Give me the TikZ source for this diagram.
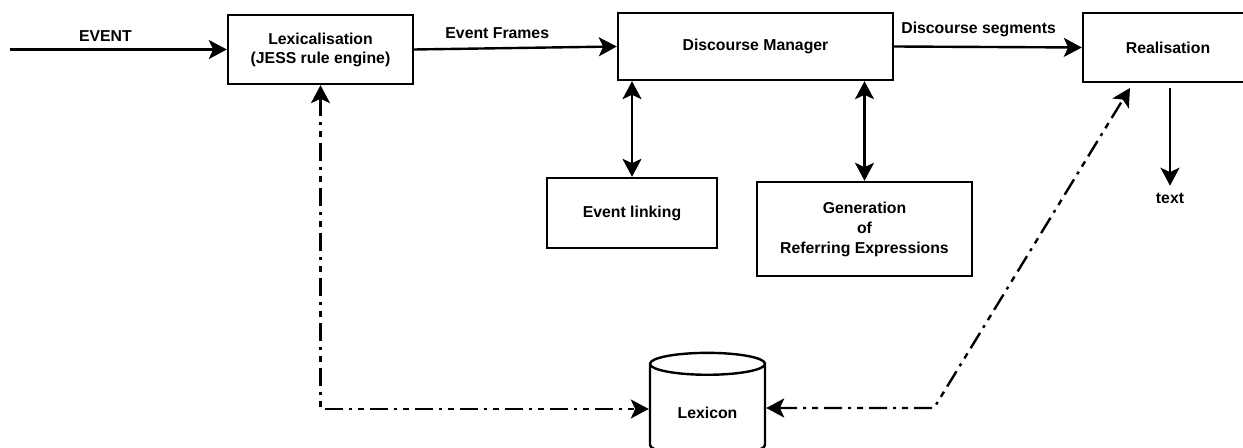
\documentclass[tikz,border=0pt]{standalone}
\usepackage{fontspec}
\setmainfont{Liberation Sans}
\usetikzlibrary{arrows.meta,shapes.geometric}

\begin{document}
\begin{tikzpicture}[x=0.5pt,y=-0.5pt,
	font=\fontsize{7.9}{9.5}\selectfont\bfseries,
	box/.style={draw, line width=1.2pt, align=center, inner sep=0pt},
	tip/.tip={Stealth[length=9pt,width=9.5pt,inset=2.2pt]},
	flow/.style={-tip, line width=1.2pt},
	lookup/.style={tip-tip, line width=1.2pt, dash pattern=on 9pt off 3pt on 1.5pt off 3pt on 3pt off 3pt}]

	\useasboundingbox (0,0) rectangle (1243,448);

	\node [box, minimum width=92.5pt, minimum height=34.5pt] (lex) at (320.5,49.5) {Lexicalisation\\(JESS rule engine)};
	\node [box, minimum width=137.5pt, minimum height=33.5pt] (dm) at (755.5,46.5) {Discourse Manager};
	\node [box, minimum width=85pt, minimum height=34.5pt] (real) at (1168,47.5) {Realisation};
	\node [box, minimum width=85pt, minimum height=35pt] (evlink) at (632,213) {Event linking};
	\node [box, minimum width=107.5pt, minimum height=47pt, font=\fontsize{7.9}{10}\selectfont\bfseries] (gre) at (864.5,229) {Generation\\of\\Referring Expressions};
	\node [cylinder, shape border rotate=90, draw, line width=1.2pt, aspect=0.3, minimum width=57.5pt, minimum height=51.5pt] (lexicon) at (707.5,413) {Lexicon};
	\node (txt) at (1170,198) {text};

	\coordinate (evin) at (10,49.5);
	\coordinate (lexcorner) at (320.5,409);
	\coordinate (rcorner) at (934,408);
	\coordinate (realfoot) at (1130,88);

	\draw [flow] (evin) -- node [above=0pt, pos=0.44] {EVENT} (lex.west);
	\draw [flow] (lex.east) -- node [above=1pt, pos=0.41] {Event Frames} (dm.west);
	\draw [flow] (dm.east) -- node [above=1pt, pos=0.45] {Discourse segments} (real.west);
	\draw [flow] ([yshift=-2.5pt]real.south -| txt) -- (txt.north);

	\draw [flow, tip-tip] (dm.south -| evlink) -- (evlink.north);
	\draw [flow, tip-tip] (dm.south -| gre) -- (gre.north);

	\draw [lookup] (lex.south) -- (lexcorner) -- (lexcorner -| lexicon.west);
	\draw [lookup] (rcorner -| lexicon.east) -- (rcorner) -- (realfoot);
\end{tikzpicture}
\end{document}
